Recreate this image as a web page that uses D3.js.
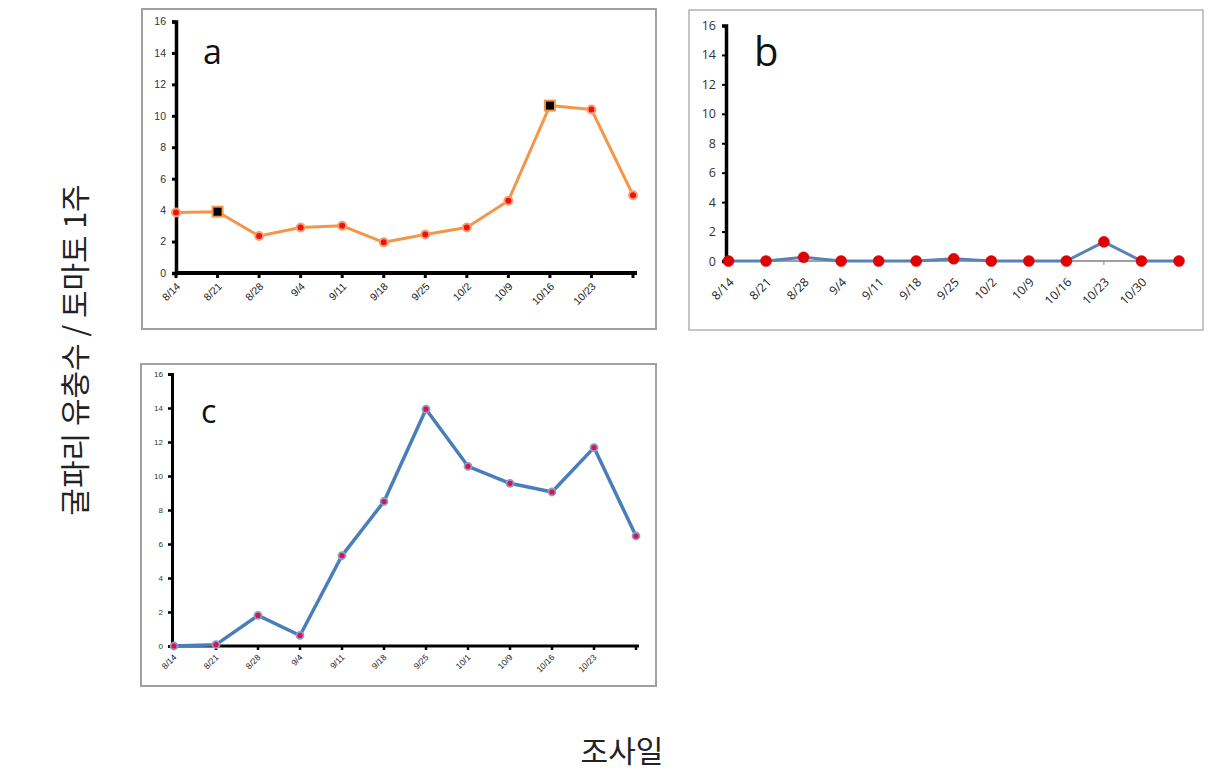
<!DOCTYPE html>
<html>
<head>
<meta charset="utf-8">
<script src="https://cdn.jsdelivr.net/npm/d3@7.9.0/dist/d3.min.js"></script>
<style>
  body { margin: 0; background: #fff; }
  svg { display: block; }
  text { font-family: "Open Sans", "Noto Sans", sans-serif; }
</style>
</head>
<body>
<svg width="1220" height="777"></svg>
<script>
// dates for each panel
const datesA = ['8/14','8/21','8/28','9/4','9/11','9/18','9/25','10/2','10/9','10/16','10/23',''];
const datesB = ['8/14','8/21','8/28','9/4','9/11','9/18','9/25','10/2','10/9','10/16','10/23','10/30',''];
const datesC = ['8/14','8/21','8/28','9/4','9/11','9/18','9/25','10/1','10/9','10/16','10/23',''];

// larvae counts per plant
const valuesA = [3.85, 3.9, 2.35, 2.9, 3.0, 1.95, 2.45, 2.9, 4.6, 10.65, 10.4, 4.95];
const valuesB = [0, 0, 0.25, 0, 0, 0, 0.15, 0, 0, 0, 1.3, 0, 0];
const valuesC = [0, 0.08, 1.8, 0.62, 5.32, 8.5, 13.93, 10.57, 9.57, 9.06, 11.67, 6.47];

const squaresA = [1, 9]; // indices drawn as black squares in panel a
const yTicks = [0, 2, 4, 6, 8, 10, 12, 14, 16];

const svg = d3.select('svg');

function drawPanel(cfg) {
  const g = svg.append('g');

  // outer frame
  g.append('rect')
    .attr('x', cfg.frame[0]).attr('y', cfg.frame[1])
    .attr('width', cfg.frame[2]).attr('height', cfg.frame[3])
    .attr('fill', 'none').attr('stroke', '#a0a0a0').attr('stroke-width', cfg.frameW);

  const x = d3.scalePoint()
    .domain(d3.range(cfg.dates.length))
    .range([cfg.x0, cfg.x1]);
  const y = d3.scaleLinear().domain([0, 16]).range([cfg.y0, cfg.y1]);

  // y axis
  const yAxis = g.append('g')
    .attr('transform', `translate(${cfg.ax},0)`)
    .call(d3.axisLeft(y).tickValues(yTicks).tickSize(4).tickPadding(cfg.yPad));
  yAxis.select('.domain').attr('stroke', '#000').attr('stroke-width', cfg.yAxisW);
  yAxis.selectAll('.tick line').attr('stroke', '#000').attr('stroke-width', cfg.yTickW);
  yAxis.selectAll('.tick text')
    .attr('font-size', cfg.yFont).attr('fill', '#333')
    .style('font-family', cfg.font);

  // x axis
  const xAxis = g.append('g')
    .attr('transform', `translate(0,${cfg.y0})`);
  xAxis.append('line')
    .attr('x1', cfg.ax).attr('x2', cfg.xEnd)
    .attr('stroke', cfg.xAxisColor).attr('stroke-width', cfg.xAxisW);
  xAxis.selectAll('line.tk')
    .data(cfg.tickPos)
    .join('line')
    .attr('class', 'tk')
    .attr('x1', d => x(d)).attr('x2', d => x(d))
    .attr('y1', 0).attr('y2', cfg.xTickLen)
    .attr('stroke', cfg.xAxisColor).attr('stroke-width', cfg.xTickW);
  xAxis.selectAll('text')
    .data(cfg.dates)
    .join('text')
    .attr('transform', (d, i) => `translate(${x(i) + cfg.lblDx},${cfg.lblDy}) rotate(-45)`)
    .attr('text-anchor', 'end')
    .attr('font-size', cfg.xFont)
    .attr('fill', '#222')
    .style('font-family', cfg.font)
    .text(d => d);

  // series line
  const line = d3.line().x((d, i) => x(i)).y(d => y(d));
  g.append('path')
    .datum(cfg.values)
    .attr('d', line)
    .attr('fill', 'none')
    .attr('stroke', cfg.lineColor)
    .attr('stroke-width', cfg.lineW)
    .attr('stroke-linejoin', 'round');

  // markers
  cfg.values.forEach((v, i) => {
    if (cfg.squares && cfg.squares.includes(i)) {
      g.append('rect')
        .attr('x', x(i) - 5).attr('y', y(v) - 5)
        .attr('width', 10).attr('height', 10)
        .attr('fill', '#000').attr('stroke', cfg.lineColor).attr('stroke-width', 2);
    } else {
      g.append('circle')
        .attr('cx', x(i)).attr('cy', y(v)).attr('r', cfg.r)
        .attr('fill', cfg.dotFill)
        .attr('stroke', cfg.dotStroke).attr('stroke-width', cfg.dotStrokeW);
    }
  });

  // panel letter
  g.append('text')
    .attr('x', cfg.letterX).attr('y', cfg.letterY)
    .attr('font-size', cfg.letterSize)
    .attr('fill', '#111')
    .style('font-family', '"Open Sans", sans-serif')
    .text(cfg.letter);
}

drawPanel({
  frame: [142, 9, 514, 320], frameW: 2,
  dates: datesA, values: valuesA, squares: squaresA,
  x0: 176, x1: 633, xEnd: 637, ax: 176, y0: 273, y1: 21.5,
  tickPos: d3.range(datesA.length), xTickLen: 5, xTickW: 3,
  yAxisW: 3.5, yTickW: 3, yPad: 6, yFont: 10.5, xFont: 10.5,
  xAxisColor: '#000', xAxisW: 4,
  lblDx: 5, lblDy: 14, font: '"Liberation Sans", sans-serif',
  lineColor: '#f4964a', lineW: 3,
  r: 4, dotFill: '#f01010', dotStroke: '#f6a070', dotStrokeW: 2,
  letter: 'a', letterX: 203, letterY: 64, letterSize: 34
});

drawPanel({
  frame: [689, 10, 514, 320], frameW: 1.2,
  dates: datesB, values: valuesB,
  x0: 728.5, x1: 1179, xEnd: 1181, ax: 726, y0: 261, y1: 25.5,
  tickPos: [7, 10], xTickLen: 4, xTickW: 1,
  yAxisW: 3.5, yTickW: 2, yPad: 6, yFont: 12.5, xFont: 12,
  xAxisColor: '#808080', xAxisW: 1.5,
  lblDx: 6, lblDy: 22, font: '"Open Sans", sans-serif',
  lineColor: '#5a82b4', lineW: 3,
  r: 5.5, dotFill: '#e00000', dotStroke: '#e00000', dotStrokeW: 0.5,
  letter: 'b', letterX: 754, letterY: 66, letterSize: 40
});

drawPanel({
  frame: [141, 364, 515, 322], frameW: 2,
  dates: datesC, values: valuesC,
  x0: 174, x1: 636, xEnd: 639, ax: 172, y0: 646, y1: 374,
  tickPos: d3.range(datesC.length), xTickLen: 4, xTickW: 2.5,
  yAxisW: 3, yTickW: 2.5, yPad: 5, yFont: 8, xFont: 8.5,
  xAxisColor: '#000', xAxisW: 3,
  lblDx: 3, lblDy: 12, font: '"Liberation Sans", sans-serif',
  lineColor: '#4a7ebb', lineW: 3.5,
  r: 3.5, dotFill: '#e0104a', dotStroke: '#8a9cc8', dotStrokeW: 1.8,
  letter: 'c', letterX: 201, letterY: 423, letterSize: 32
});

// shared axis titles
svg.append('text')
  .attr('transform', 'translate(86,350) rotate(-90)')
  .attr('text-anchor', 'middle')
  .attr('font-size', 30)
  .attr('fill', '#222')
  .style('font-family', '"Noto Sans CJK KR", sans-serif')
  .text('굴파리 유충수 / 토마토 1주');

svg.append('text')
  .attr('x', 622).attr('y', 762)
  .attr('text-anchor', 'middle')
  .attr('font-size', 30)
  .attr('fill', '#222')
  .style('font-family', '"Noto Sans CJK KR", sans-serif')
  .text('조사일');
</script>
</body>
</html>
